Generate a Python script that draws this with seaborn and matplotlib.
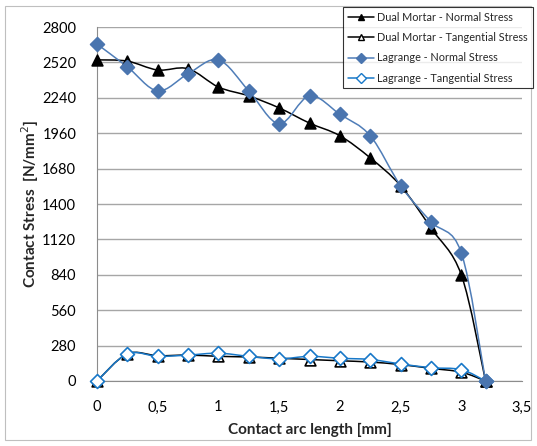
import numpy as np
import pandas as pd
import matplotlib
matplotlib.use('Agg')
import matplotlib.pyplot as plt
from matplotlib.path import Path
from matplotlib.patches import PathPatch, Rectangle
import seaborn as sns

# -----------------------------------------------------
# DATA
# -----------------------------------------------------
arc_length = [0, 0.25, 0.5, 0.75, 1.0, 1.25, 1.5, 1.75, 2.0, 2.25, 2.5, 2.75, 3.0, 3.2]
dm_normal = [2540, 2530, 2460, 2470, 2325, 2255, 2160, 2040, 1940, 1765, 1545, 1210, 840, 0]
dm_tangential = [0, 215, 200, 205, 195, 190, 180, 170, 160, 150, 130, 100, 70, 0]
lg_normal = [2665, 2485, 2295, 2430, 2540, 2295, 2035, 2255, 2110, 1940, 1545, 1260, 1015, 0]
lg_tangential = [0, 215, 195, 205, 220, 195, 175, 195, 180, 170, 135, 105, 90, 0]

series_names = ['Dual Mortar - Normal Stress', 'Dual Mortar - Tangential Stress',
                'Lagrange - Normal Stress', 'Lagrange - Tangential Stress']
series_values = [dm_normal, dm_tangential, lg_normal, lg_tangential]

y_ticks = list(range(0, 2801, 280))
x_ticks = [0, 0.5, 1, 1.5, 2, 2.5, 3, 3.5]
x_tick_labels = ['0', '0,5', '1', '1,5', '2', '2,5', '3', '3,5']

df = pd.concat([
    pd.DataFrame({'x': arc_length, 'y': vals, 'series': name})
    for name, vals in zip(series_names, series_values)
], ignore_index=True)

# gaya per seri: (warna garis, marker, facecolor marker, edgecolor marker)
styles = {
    'Dual Mortar - Normal Stress': ('black', '^', 'black', 'black'),
    'Dual Mortar - Tangential Stress': ('black', '^', 'white', 'black'),
    'Lagrange - Normal Stress': ('#4F7DB8', 'D', '#4A75AF', '#4A75AF'),
    'Lagrange - Tangential Stress': ('#1878C8', 'D', 'white', '#1878C8'),
}

sns.set_style('white')
plt.rcParams['font.family'] = ['Lato', 'DejaVu Sans']


def smooth_path(xs, ys):
    # kurva halus ala Excel "smoothed line" (Catmull-Rom -> Bezier)
    pts = np.column_stack([xs, ys]).astype(float)
    verts = [pts[0]]
    codes = [Path.MOVETO]
    n = len(pts)
    for i in range(n - 1):
        p0 = pts[i - 1] if i > 0 else pts[i]
        p1, p2 = pts[i], pts[i + 1]
        p3 = pts[i + 2] if i + 2 < n else pts[i + 1]
        c1 = p1 + (p2 - p0) / 6.0
        c2 = p2 - (p3 - p1) / 6.0
        verts += [c1, c2, p2]
        codes += [Path.CURVE4] * 3
    return Path(verts, codes)


fig = plt.figure(figsize=(5.37, 4.46), dpi=100)
ax = fig.add_axes([97 / 537, 1 - 381 / 446, (522 - 97) / 537, (381 - 27) / 446])

# urutan gambar: tangential dulu, normal di atas
draw_order = [series_names[1], series_names[3], series_names[0], series_names[2]]
for name in draw_order:
    color, marker, fc, ec = styles[name]
    sub = df[df['series'] == name]
    ax.add_patch(PathPatch(smooth_path(sub['x'], sub['y']), facecolor='none',
                           edgecolor=color, lw=1.1, zorder=3))
    sns.scatterplot(data=sub, x='x', y='y', marker=marker, s=60 if marker == '^' else 50,
                    color=fc, edgecolor=ec, linewidth=1.2, ax=ax, zorder=4, legend=False,
                    clip_on=False)

ax.set_xlim(0, 3.5)
ax.set_ylim(0, 2800)
ax.set_yticks(y_ticks)
ax.set_yticklabels([str(v) for v in y_ticks])
ax.set_xticks(x_ticks)
ax.set_xticklabels(x_tick_labels)
ax.grid(axis='y', color='#A6A6A6', lw=1.0)
ax.set_axisbelow(True)
for side in ['top', 'right']:
    ax.spines[side].set_visible(False)
for side in ['left', 'bottom']:
    ax.spines[side].set_color('#8C8C8C')
ax.tick_params(axis='both', labelsize=10.5, colors='black', length=0)
ax.tick_params(axis='y', pad=15)
ax.tick_params(axis='x', pad=14)
ax.set_xlabel('Contact arc length [mm]', fontsize=11, fontweight='bold', labelpad=6)
ax.set_ylabel('Contact Stress  [N/mm$^2$]', fontsize=11, fontweight='bold', labelpad=1)

# legenda
handles = []
for name in series_names:
    color, marker, fc, ec = styles[name]
    h, = ax.plot([], [], color=color, marker=marker, markerfacecolor=fc,
                 markeredgecolor=ec, markersize=5, lw=1.1, label=name)
    handles.append(h)
leg = fig.legend(handles=handles, loc='upper left', bbox_to_anchor=(343 / 537, 1 - 7 / 446),
                 fontsize=7.8, frameon=True, fancybox=False, edgecolor='black',
                 handlelength=2.4, handletextpad=0.3, borderpad=0.45, labelspacing=0.85,
                 borderaxespad=0)
leg.get_frame().set_linewidth(0.8)

# bingkai chart area
fig.patches.append(Rectangle((5 / 537, 6 / 446), 526 / 537, 434 / 446, transform=fig.transFigure,
                             fill=False, edgecolor='#BFBFBF', lw=0.8, zorder=-1))

fig.savefig('out.png', dpi=100)
